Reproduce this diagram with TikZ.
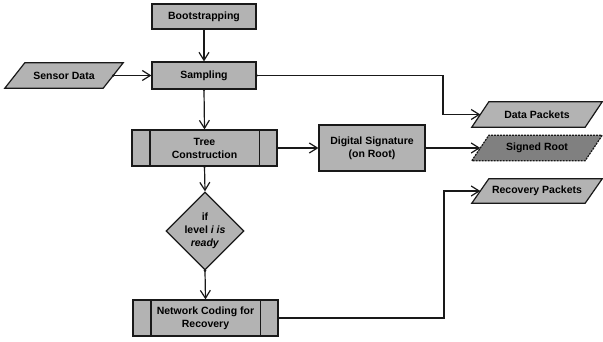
\documentclass[tikz,border=0pt]{standalone}
\usepackage{fontspec}
\setmainfont{Liberation Sans}
\usetikzlibrary{arrows.meta,shapes.geometric,backgrounds}

\definecolor{boxfill}{RGB}{179,179,179}
\definecolor{darkfill}{RGB}{128,128,128}
\definecolor{edgeline}{RGB}{25,25,25}

% slanted input/output box drawn round a borderless body node
\newcommand\slantbox[3]{%
  \path[#3] ([xshift={-(#2)/2}]#1.south west) -- ([xshift={(#2)/2}]#1.north west)
    -- ([xshift={(#2)/2}]#1.north east) -- ([xshift={-(#2)/2}]#1.south east) -- cycle;}

\tikzset{
  every node/.style={font=\fontsize{10.5}{13}\selectfont\bfseries, text=black, align=center},
  procbox/.style={rectangle, draw=edgeline, fill=boxfill, line width=1.2pt, inner sep=0pt},
  iobody/.style={rectangle, inner sep=0pt, minimum height=25pt},
  decision/.style={diamond, draw=edgeline, fill=boxfill, line width=1.2pt, inner sep=0pt,
    minimum width=78pt, minimum height=78pt},
  % connector: dot centred on the source border, open barb at the target
  flow/.style={draw=edgeline, line width=1.2pt, shorten <=-1.2pt,
    {Circle[length=2.4pt]}-{Straight Barb[length=8pt,width=10pt]}},
  ioshape/.style={draw=edgeline, fill=boxfill, line width=1.2pt},
}

\begin{document}
\begin{tikzpicture}[x=1pt,y=-1pt]
\useasboundingbox (0,0) rectangle (603,342);

% process steps
\node[procbox, minimum width=104pt, minimum height=25pt] (boot) at (204,16.5) {Bootstrapping};
\node[procbox, minimum width=104pt, minimum height=27pt] (samp) at (204,75.5) {Sampling};
\node[procbox, minimum width=145pt, minimum height=36pt] (tree) at (204.5,148) {Tree\\Construction};
\node[procbox, minimum width=106pt, minimum height=46pt] (dsig) at (372,148) {Digital Signature\\(on Root)};
\node[decision] (cond) at (205,231) {if\\level \textit{i is}\\\textit{ready}};
\node[procbox, minimum width=145pt, minimum height=36pt] (ncode) at (205.5,318) {Network Coding for\\Recovery};

% predefined-process side bars
\foreach \n in {tree,ncode}{
  \draw[edgeline, line width=1.2pt] ([xshift=18.5pt]\n.north west) -- ([xshift=18.5pt]\n.south west);
  \draw[edgeline, line width=1.2pt] ([xshift=-18.5pt]\n.north east) -- ([xshift=-18.5pt]\n.south east);
}

% data inputs and outputs
\node[iobody, minimum width=98pt] (sensor) at (64,75.5) {Sensor Data};
\node[iobody, minimum width=113pt] (dpk) at (537,114.5) {Data Packets};
\node[iobody, minimum width=113pt] (sroot) at (537,148) {Signed Root};
\node[iobody, minimum width=113pt, minimum height=24pt] (rpk) at (537,191) {Recovery Packets};

\begin{pgfonlayer}{background}
  \slantbox{sensor}{20}{ioshape}
  \slantbox{dpk}{17}{ioshape}
  \slantbox{sroot}{17}{ioshape, fill=darkfill, dash pattern=on 2pt off 1pt}
  \slantbox{rpk}{17}{ioshape}
\end{pgfonlayer}

% connectors
\draw[flow] (boot.south) -- (samp.north);
\draw[flow] (sensor.east) -- (samp.west);
\draw[flow] (samp.south) -- (tree.north);
\draw[flow] (samp.east) -- (443,75.5) |- (dpk.west);
\draw[flow] (tree.east) -- (dsig.west);
\draw[flow] (dsig.east) -- (sroot.west);
\draw[flow] (tree.south) -- (cond.north);
\draw[flow] (cond.south) -- (ncode.north);
\draw[flow] (ncode.east) -- (444,318) |- (rpk.west);
\end{tikzpicture}
\end{document}
